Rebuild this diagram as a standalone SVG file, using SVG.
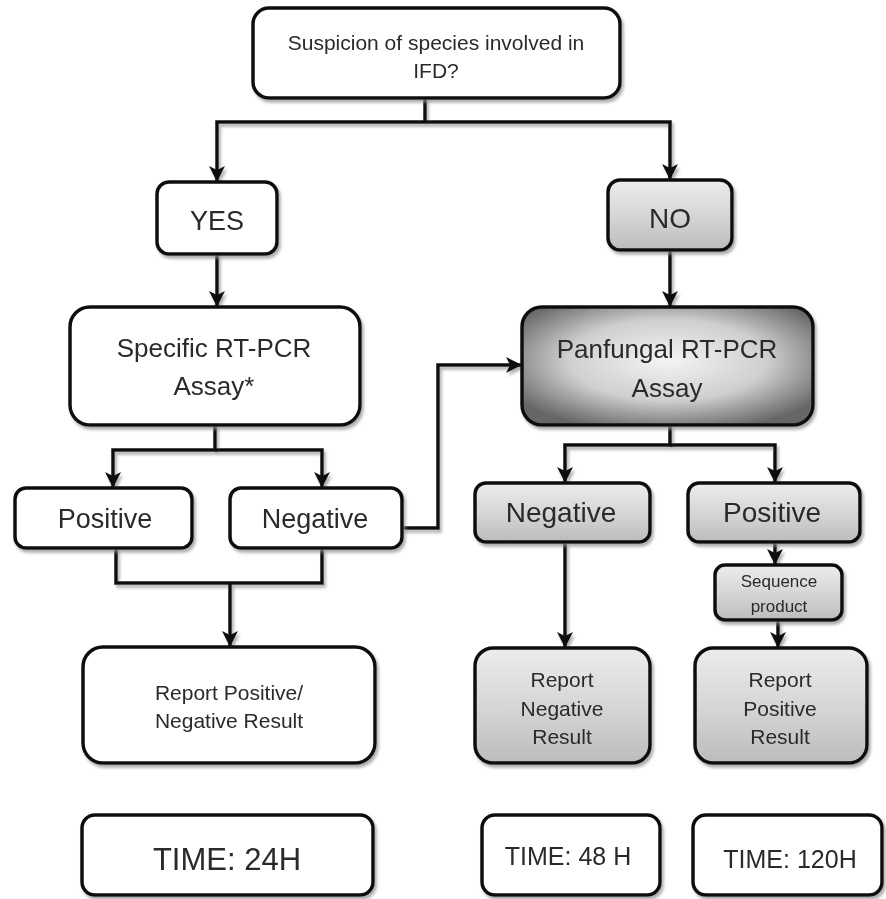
<svg xmlns="http://www.w3.org/2000/svg" width="886" height="899" viewBox="0 0 886 899">
<style>
.box{stroke:#111;stroke-width:3.5}
.w{fill:#fff}
.g{fill:url(#gray)}
.p{fill:url(#pan)}
text{font-family:"Liberation Sans",Arial,sans-serif;fill:#2a2a2a;text-anchor:middle}
.c{fill:none;stroke:#111;stroke-width:3.5}
.a{marker-end:url(#arr)}
</style>
<defs>
<linearGradient id="gray" x1="0" y1="0" x2="0" y2="1">
<stop offset="0" stop-color="#ececec"/>
<stop offset="0.5" stop-color="#d6d6d6"/>
<stop offset="1" stop-color="#bcbcbc"/>
</linearGradient>
<radialGradient id="pan" cx="0.5" cy="0.45" r="0.62">
<stop offset="0" stop-color="#f4f4f4"/>
<stop offset="0.55" stop-color="#cfcfcf"/>
<stop offset="1" stop-color="#666"/>
</radialGradient>
<filter id="sh" x="-10%" y="-10%" width="125%" height="130%">
<feDropShadow dx="2" dy="3" stdDeviation="1.5" flood-color="#8a8a8a" flood-opacity="0.7"/>
</filter>
<marker id="arr" markerUnits="userSpaceOnUse" markerWidth="18" markerHeight="18" refX="15" refY="8" orient="auto">
<path d="M0,0 L16,8 L0,16 L4,8 Z" fill="#111"/>
</marker>
</defs>

<g id="connectors" filter="url(#sh)">
<path class="c" d="M425,98 V122"/>
<path class="c a" d="M425,122 H217 V181"/>
<path class="c a" d="M425,122 H670 V179"/>
<path class="c a" d="M217,254 V306"/>
<path class="c a" d="M670,250 V306"/>
<path class="c a" d="M215,425 V450 H113 V487"/>
<path class="c a" d="M215,450 H322 V487"/>
<path class="c a" d="M402,528 H438 V365 H521"/>
<path class="c a" d="M670,425 V445 H565 V482"/>
<path class="c a" d="M670,445 H775 V482"/>
<path class="c a" d="M775,542 V564"/>
<path class="c a" d="M778,620 V647"/>
<path class="c a" d="M565,542 V647"/>
<path class="c" d="M116,548 V583 H322 V548"/>
<path class="c a" d="M230,583 V646"/>
</g>

<g id="n-question" filter="url(#sh)">
<rect class="box w" x="253" y="8" width="367" height="90" rx="16"/>
<text x="436" y="50" font-size="21">Suspicion of species involved in</text>
<text x="436" y="78" font-size="21">IFD?</text>
</g>

<g id="n-yes" filter="url(#sh)">
<rect class="box w" x="157" y="182" width="120" height="72" rx="12"/>
<text x="217" y="230" font-size="27">YES</text>
</g>

<g id="n-no" filter="url(#sh)">
<rect class="box g" x="608" y="180" width="124" height="70" rx="12"/>
<text x="670" y="228" font-size="28">NO</text>
</g>

<g id="n-specific" filter="url(#sh)">
<rect class="box w" x="70" y="307" width="290" height="118" rx="20"/>
<text x="214" y="357" font-size="26">Specific RT-PCR</text>
<text x="214" y="395" font-size="26">Assay*</text>
</g>

<g id="n-panfungal" filter="url(#sh)">
<rect class="box p" x="522" y="307" width="291" height="118" rx="20"/>
<text x="667" y="358" font-size="26">Panfungal RT-PCR</text>
<text x="667" y="397" font-size="26">Assay</text>
</g>

<g id="n-positive-left" filter="url(#sh)">
<rect class="box w" x="15" y="488" width="177" height="60" rx="11"/>
<text x="105" y="528" font-size="27">Positive</text>
</g>

<g id="n-negative-left" filter="url(#sh)">
<rect class="box w" x="230" y="488" width="172" height="60" rx="11"/>
<text x="315" y="528" font-size="27">Negative</text>
</g>

<g id="n-negative-right" filter="url(#sh)">
<rect class="box g" x="475" y="483" width="175" height="59" rx="11"/>
<text x="561" y="522" font-size="28">Negative</text>
</g>

<g id="n-positive-right" filter="url(#sh)">
<rect class="box g" x="688" y="483" width="172" height="59" rx="11"/>
<text x="772" y="522" font-size="28">Positive</text>
</g>

<g id="n-sequence" filter="url(#sh)">
<rect class="box g" x="715" y="565" width="127" height="55" rx="10"/>
<text x="779" y="587" font-size="17">Sequence</text>
<text x="779" y="612" font-size="17">product</text>
</g>

<g id="n-report-posneg" filter="url(#sh)">
<rect class="box w" x="83" y="647" width="292" height="116" rx="20"/>
<text x="229" y="700" font-size="21">Report Positive/</text>
<text x="229" y="728" font-size="21">Negative Result</text>
</g>

<g id="n-report-negative" filter="url(#sh)">
<rect class="box g" x="475" y="648" width="175" height="115" rx="18"/>
<text x="562" y="687" font-size="21">Report</text>
<text x="562" y="716" font-size="21">Negative</text>
<text x="562" y="744" font-size="21">Result</text>
</g>

<g id="n-report-positive" filter="url(#sh)">
<rect class="box g" x="695" y="648" width="172" height="115" rx="18"/>
<text x="780" y="687" font-size="21">Report</text>
<text x="780" y="716" font-size="21">Positive</text>
<text x="780" y="744" font-size="21">Result</text>
</g>

<g id="n-time24" filter="url(#sh)">
<rect class="box w" x="82" y="815" width="291" height="80" rx="13"/>
<text x="227" y="870" font-size="31">TIME: 24H</text>
</g>

<g id="n-time48" filter="url(#sh)">
<rect class="box w" x="482" y="815" width="178" height="80" rx="13"/>
<text x="568" y="865" font-size="25">TIME: 48 H</text>
</g>

<g id="n-time120" filter="url(#sh)">
<rect class="box w" x="693" y="815" width="189" height="80" rx="13"/>
<text x="790" y="868" font-size="25">TIME: 120H</text>
</g>
</svg>
